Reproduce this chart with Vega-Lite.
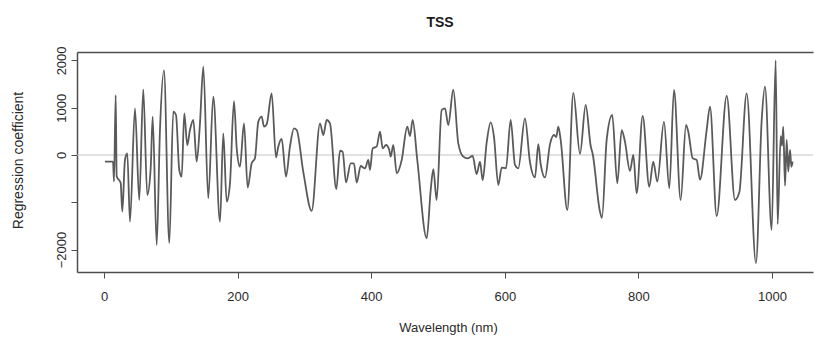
{
  "$schema": "https://vega.github.io/schema/vega-lite/v6.json",
  "width": 736,
  "height": 220,
  "autosize": {"type": "none"},
  "padding": {"left": 77, "top": 52, "right": 2, "bottom": 76},
  "background": "white",
  "title": {"text": "TSS", "fontSize": 14, "fontWeight": "bold", "font": "Liberation Sans", "color": "#1a1a1a", "anchor": "middle", "frame": "group", "offset": 2, "baseline": "bottom", "dx": -5},
  "data": {"values": [
    {"w": 1.5, "v": -140}, {"w": 13.5, "v": -140}, {"w": 15, "v": -560}, {"w": 17.5, "v": 1268}, {"w": 19, "v": -450},
    {"w": 25, "v": -594}, {"w": 27.4, "v": -1198}, {"w": 31.4, "v": -106}, {"w": 34.9, "v": 35}, {"w": 38.9, "v": -1410},
    {"w": 46.4, "v": 987}, {"w": 52.8, "v": -951}, {"w": 58.8, "v": 1388}, {"w": 64.8, "v": -846}, {"w": 69.9, "v": -282},
    {"w": 72.9, "v": 810}, {"w": 78.9, "v": -1903}, {"w": 83.8, "v": 528}, {"w": 89.8, "v": 1790}, {"w": 97.8, "v": -1860},
    {"w": 103.7, "v": 916}, {"w": 107.8, "v": 846}, {"w": 112.7, "v": -317}, {"w": 116.3, "v": -458}, {"w": 120.2, "v": 881},
    {"w": 124.7, "v": 211}, {"w": 128.7, "v": 528}, {"w": 133.7, "v": 740}, {"w": 138.8, "v": -141}, {"w": 143.7, "v": 670},
    {"w": 148.7, "v": 1867}, {"w": 156.1, "v": -916}, {"w": 163.6, "v": 1233}, {"w": 173.7, "v": -1410}, {"w": 178.6, "v": 458},
    {"w": 183.7, "v": -987}, {"w": 188.6, "v": -599}, {"w": 194.6, "v": 1140}, {"w": 198.7, "v": 141}, {"w": 203.6, "v": -247},
    {"w": 209.6, "v": 670}, {"w": 215.1, "v": -690}, {"w": 221.1, "v": -176}, {"w": 226, "v": -70}, {"w": 231, "v": 705},
    {"w": 236.1, "v": 810}, {"w": 239.5, "v": 600}, {"w": 243.6, "v": 650}, {"w": 251, "v": 1304}, {"w": 257.5, "v": -50},
    {"w": 260.9, "v": 176}, {"w": 266, "v": 340}, {"w": 272.5, "v": -458}, {"w": 278.4, "v": 176}, {"w": 284.4, "v": 564},
    {"w": 288.5, "v": 528}, {"w": 298.3, "v": -352}, {"w": 310.9, "v": -1180}, {"w": 323.4, "v": 670}, {"w": 328.3, "v": 423},
    {"w": 333.4, "v": 740}, {"w": 338.3, "v": 670}, {"w": 347.8, "v": -720}, {"w": 353.3, "v": 90}, {"w": 357.3, "v": 70},
    {"w": 362.3, "v": -580}, {"w": 369.3, "v": -176}, {"w": 374.2, "v": -176}, {"w": 378.3, "v": -585}, {"w": 384.3, "v": -233},
    {"w": 390.7, "v": -282}, {"w": 395.7, "v": -106}, {"w": 398.2, "v": -317}, {"w": 402.2, "v": 141}, {"w": 408.2, "v": 176},
    {"w": 413.2, "v": 493}, {"w": 417.2, "v": 141}, {"w": 422.2, "v": 211}, {"w": 427.1, "v": 106}, {"w": 429.2, "v": -35},
    {"w": 433.1, "v": 211}, {"w": 438.2, "v": -388}, {"w": 445.7, "v": -106}, {"w": 454, "v": 599}, {"w": 458.1, "v": 400},
    {"w": 462.1, "v": 740}, {"w": 469, "v": -106}, {"w": 483.1, "v": -1762}, {"w": 489.1, "v": -740}, {"w": 493, "v": -300},
    {"w": 498, "v": -951}, {"w": 505.5, "v": 951}, {"w": 510.5, "v": 987}, {"w": 515.4, "v": 634}, {"w": 522.9, "v": 1380},
    {"w": 530.4, "v": 247}, {"w": 537.9, "v": -35}, {"w": 543.9, "v": -70}, {"w": 551.9, "v": -21}, {"w": 557.9, "v": -405},
    {"w": 562.9, "v": -141}, {"w": 566.9, "v": -530}, {"w": 572.9, "v": 265}, {"w": 578.9, "v": 690}, {"w": 583.8, "v": 388},
    {"w": 590.3, "v": -634}, {"w": 595.4, "v": -265}, {"w": 601.8, "v": -282}, {"w": 608.8, "v": 740}, {"w": 615.3, "v": -211},
    {"w": 620.2, "v": -282}, {"w": 630.2, "v": 775}, {"w": 637.7, "v": -150}, {"w": 645.2, "v": -475}, {"w": 650.2, "v": 230},
    {"w": 653.7, "v": -190}, {"w": 660.2, "v": -475}, {"w": 667.7, "v": 230}, {"w": 673.7, "v": 423}, {"w": 677, "v": 380},
    {"w": 680.1, "v": 599}, {"w": 683.7, "v": 317}, {"w": 693.6, "v": -1163}, {"w": 702.6, "v": 1315}, {"w": 712.6, "v": 25},
    {"w": 721.1, "v": 1057}, {"w": 728.6, "v": 190}, {"w": 731.6, "v": 20}, {"w": 742.5, "v": -1198}, {"w": 745.5, "v": -1330},
    {"w": 752.6, "v": 335}, {"w": 760.9, "v": 846}, {"w": 768.4, "v": -599}, {"w": 775, "v": 528}, {"w": 779.9, "v": 282},
    {"w": 787.4, "v": -335}, {"w": 792.4, "v": 0}, {"w": 797.4, "v": -810}, {"w": 806.4, "v": 828}, {"w": 816.3, "v": -670},
    {"w": 822.3, "v": -141}, {"w": 828.3, "v": -564}, {"w": 838.3, "v": 705}, {"w": 846.3, "v": -705}, {"w": 853.3, "v": 1374},
    {"w": 863.3, "v": -951}, {"w": 871.3, "v": 634}, {"w": 874.7, "v": 493}, {"w": 881.3, "v": -70}, {"w": 887.3, "v": -106},
    {"w": 892.2, "v": -520}, {"w": 902.2, "v": 528}, {"w": 907.2, "v": 1022}, {"w": 917.2, "v": -1290}, {"w": 932.2, "v": 1250},
    {"w": 944.6, "v": -951}, {"w": 951.1, "v": -790}, {"w": 962.1, "v": 1304}, {"w": 976.0, "v": -2285}, {"w": 984.6, "v": 740},
    {"w": 989.5, "v": 1444}, {"w": 999.5, "v": -1585}, {"w": 1005.5, "v": 2000}, {"w": 1008.5, "v": -1460}, {"w": 1013, "v": 400},
    {"w": 1015, "v": 200}, {"w": 1016.9, "v": 599}, {"w": 1019.5, "v": -650}, {"w": 1022, "v": 317}, {"w": 1024.4, "v": -350},
    {"w": 1027, "v": 106}, {"w": 1029, "v": -250}, {"w": 1031, "v": -141}
  ]},
  "layer": [
    {
      "data": {"values": [{}]},
      "mark": {"type": "rule", "color": "#c4c4c4", "strokeWidth": 1},
      "encoding": {
        "y": {"datum": 0, "type": "quantitative", "scale": {"domain": [-2474, 2178], "nice": false, "zero": false}}
      }
    },
    {
      "mark": {"type": "line", "color": "#5a5a5a", "strokeWidth": 1.8, "interpolate": "monotone"},
      "encoding": {
        "x": {"field": "w", "type": "quantitative", "scale": {"domain": [-40.4, 1061.4], "nice": false, "zero": false},
          "axis": {"orient": "bottom", "values": [0, 200, 400, 600, 800, 1000], "format": "d", "tickSize": 6, "labelPadding": 12, "labelFlush": false, "labelOverlap": false,
            "title": "Wavelength (nm)", "titleX": 371, "titleY": 55, "titleAlign": "center", "titleBaseline": "middle"}},
        "y": {"field": "v", "type": "quantitative", "scale": {"domain": [-2474, 2178], "nice": false, "zero": false},
          "axis": {"orient": "left", "values": [-2000, -1000, 0, 1000, 2000], "format": "d", "labelExpr": "datum.value == -1000 ? '' : datum.label",
            "tickSize": 6, "labelPadding": 3, "labelAngle": -90, "labelAlign": "center", "labelBaseline": "bottom", "labelFlush": false, "labelOverlap": false,
            "title": "Regression coefficient", "titleFontSize": 14, "titleAngle": -90, "titleX": -59, "titleY": 108, "titleAlign": "center", "titleBaseline": "middle"}}
      }
    },
    {
      "mark": {"type": "line", "opacity": 0},
      "encoding": {
        "x": {"field": "w", "type": "quantitative", "scale": {"domain": [-40.4, 1061.4], "nice": false, "zero": false},
          "axis": {"orient": "top", "ticks": false, "labels": false, "title": null, "domain": true}},
        "y": {"field": "v", "type": "quantitative", "scale": {"domain": [-2474, 2178], "nice": false, "zero": false}}
      }
    }
  ],
  "resolve": {"axis": {"x": "independent"}},
  "config": {
    "view": {"stroke": null},
    "axis": {"grid": false, "domainColor": "#4d4d4d", "domainWidth": 1.5, "tickColor": "#4d4d4d", "tickWidth": 1,
      "labelFont": "Liberation Sans", "titleFont": "Liberation Sans", "labelColor": "#2a2a2a", "titleColor": "#2a2a2a",
      "labelFontSize": 13, "titleFontSize": 13, "titleFontWeight": "normal"}
  }
}
